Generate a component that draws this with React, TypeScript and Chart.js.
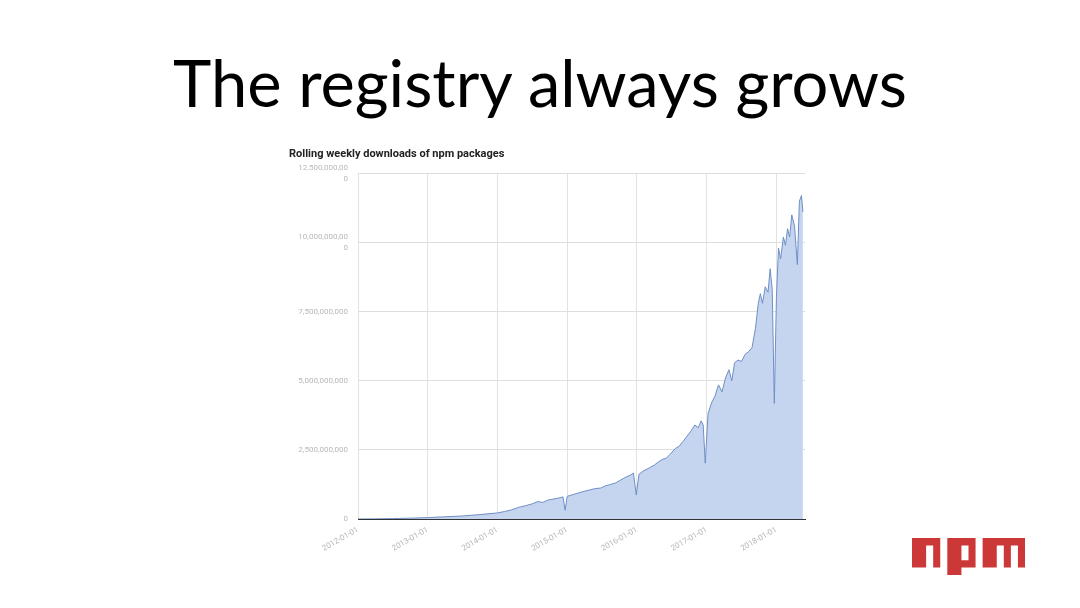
import React, { useEffect, useRef } from "react";
import { Chart, registerables } from "chart.js";

Chart.register(...registerables);

// decimal year of each weekly sample
const years: number[] = [
  2012.0, 2012.25, 2012.5, 2012.75, 2013.0, 2013.25, 2013.5, 2013.75, 2014.0, 2014.1,
  2014.2, 2014.3, 2014.4, 2014.5, 2014.58, 2014.65, 2014.72, 2014.8, 2014.88, 2014.94,
  2014.97, 2015.0, 2015.08, 2015.16, 2015.24, 2015.32, 2015.4, 2015.48, 2015.55, 2015.62,
  2015.69, 2015.76, 2015.83, 2015.9, 2015.95, 2015.99, 2016.03, 2016.1, 2016.18, 2016.25,
  2016.3, 2016.36, 2016.42, 2016.48, 2016.55, 2016.6, 2016.66, 2016.72, 2016.78, 2016.83,
  2016.88, 2016.92, 2016.95, 2016.98, 2017.02, 2017.07, 2017.12, 2017.17, 2017.22, 2017.27,
  2017.32, 2017.36, 2017.4, 2017.45, 2017.5, 2017.55, 2017.6, 2017.65, 2017.7, 2017.74,
  2017.77, 2017.8, 2017.84, 2017.88, 2017.91, 2017.94, 2017.97, 2018.0, 2018.03, 2018.06,
  2018.1, 2018.13, 2018.16, 2018.19, 2018.22, 2018.26, 2018.3, 2018.33, 2018.36, 2018.38,
];

// rolling weekly downloads, in billions
const downloadsBillions: number[] = [
  0.0, 0.005, 0.015, 0.03, 0.05, 0.08, 0.11, 0.16, 0.22, 0.27,
  0.33, 0.42, 0.48, 0.55, 0.63, 0.6, 0.68, 0.72, 0.76, 0.8,
  0.32, 0.82, 0.88, 0.94, 1.0, 1.05, 1.1, 1.12, 1.2, 1.25,
  1.3, 1.4, 1.5, 1.58, 1.66, 0.87, 1.62, 1.75, 1.85, 1.95,
  2.05, 2.15, 2.2, 2.35, 2.55, 2.62, 2.8, 3.0, 3.2, 3.4,
  3.3, 3.55, 3.4, 2.02, 3.82, 4.2, 4.45, 4.85, 4.6, 5.1,
  5.4, 5.0, 5.65, 5.75, 5.7, 5.95, 6.05, 6.2, 6.9, 7.8,
  8.15, 7.8, 8.4, 8.2, 9.05, 8.3, 4.18, 8.0, 9.8, 9.4,
  10.2, 9.9, 10.5, 10.2, 11.0, 10.6, 9.2, 11.5, 11.7, 11.1,
];

const yTicks: number[] = [0, 2.5, 5, 7.5, 10, 12.5];
const xTickLabels: string[] = [
  "2012-01-01", "2013-01-01", "2014-01-01", "2015-01-01", "2016-01-01", "2017-01-01", "2018-01-01",
];

const title = "The registry always grows";
const chartTitle = "Rolling weekly downloads of npm packages";

export default function App() {
  const ref = useRef<HTMLCanvasElement>(null);

  useEffect(() => {
    if (!ref.current) return;
    const chart = new Chart(ref.current, {
      type: "line",
      data: {
        datasets: [
          {
            data: years.map((y, i) => ({ x: y, y: downloadsBillions[i] })),
            borderColor: "#6f8fc4",
            backgroundColor: "#c5d5ef",
            borderWidth: 1,
            fill: "origin",
            pointRadius: 0,
            tension: 0,
          },
        ],
      },
      options: {
        animation: false,
        responsive: false,
        layout: { padding: { top: 6, right: 15, left: 0, bottom: 0 } },
        plugins: { legend: { display: false }, tooltip: { enabled: false } },
        scales: {
          x: {
            type: "linear",
            min: 2012,
            max: 2018.41,
            afterBuildTicks: (s: any) => {
              s.ticks = xTickLabels.map((_, i) => ({ value: 2012 + i }));
            },
            afterFit: (s: any) => {
              s.height = 41;
            },
            ticks: {
              autoSkip: false,
              minRotation: 30,
              maxRotation: 30,
              color: "#b8b8b8",
              font: { family: "Roboto", size: 8 },
              padding: 6,
              callback: (v: any) => xTickLabels[Math.round(Number(v) - 2012)] ?? "",
            },
            grid: { color: "#e2e2e2", drawTicks: false },
            border: { display: true, color: "#333333", width: 1 },
          },
          y: {
            min: 0,
            max: 12.5,
            afterBuildTicks: (s: any) => {
              s.ticks = yTicks.map((v) => ({ value: v }));
            },
            afterFit: (s: any) => {
              s.width = 78;
            },
            ticks: {
              color: "#b8b8b8",
              font: { family: "Roboto", size: 8, lineHeight: 1.3 },
              padding: 10,
              callback: (v: any) => {
                const s = Math.round(Number(v) * 1e9).toLocaleString("en-US");
                if (s.length > 13) return [s.slice(0, s.length - 1), s.slice(s.length - 1)];
                return s;
              },
            },
            grid: { color: "#dedede", drawTicks: false },
            border: { display: false },
          },
        },
      },
    });
    return () => chart.destroy();
  }, []);

  return (
    <div style={{ position: "fixed", left: 0, top: 0, width: 1080, height: 608, background: "#fff", overflow: "hidden" }}>
      <div
        style={{
          position: "absolute",
          left: 0,
          width: 1080,
          top: 40,
          textAlign: "center",
          fontFamily: "Lato, sans-serif",
          fontWeight: 400,
          fontSize: 65,
          lineHeight: "84px",
          color: "#000",
          whiteSpace: "nowrap",
        }}
      >
        {title}
      </div>
      <canvas ref={ref} width={540} height={407} style={{ position: "absolute", left: 280, top: 153, width: 540, height: 407 }} />
      <div
        style={{
          position: "absolute",
          left: 289,
          top: 147,
          fontFamily: "Roboto, sans-serif",
          fontWeight: 700,
          fontSize: 11,
          color: "#222",
          whiteSpace: "nowrap",
        }}
      >
        {chartTitle}
      </div>
      <svg
        style={{ position: "absolute", left: 912, top: 538 }}
        width={113}
        height={37}
        viewBox="1 1 16 5"
        preserveAspectRatio="none"
      >
        <path
          fill="#cb3837"
          fillRule="evenodd"
          d="M1,1v4h2V2h1v3h1V1H1z M6,1v5h2V5h2V1H6z M8,2h1v2H8V2z M11,1v4h2V2h1v3h1V2h1v3h1V1H11z"
        />
      </svg>
    </div>
  );
}
